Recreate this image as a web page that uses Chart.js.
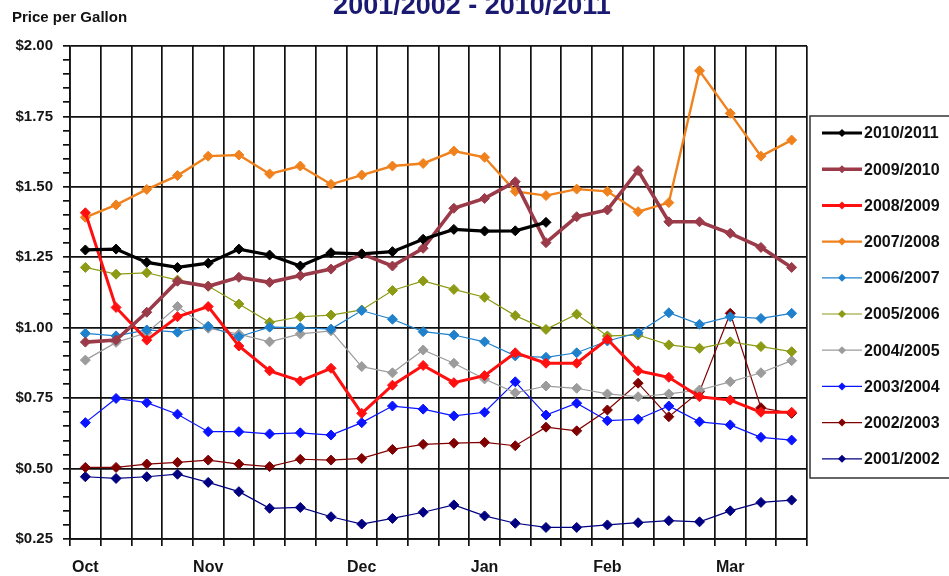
<!DOCTYPE html>
<html>
<head>
<meta charset="utf-8">
<script src="https://cdn.jsdelivr.net/npm/chart.js@4.4.1/dist/chart.umd.min.js"></script>
<style>
  html, body { margin: 0; padding: 0; background: #ffffff; }
  #wrap { width: 949px; height: 576px; overflow: hidden; }
</style>
</head>
<body>
<div id="wrap"><canvas id="c" width="949" height="576"></canvas></div>
<script>
// ---- data ----
const chartTitle = "2001/2002 - 2010/2011";
const axisTitle = "Price per Gallon";
const categories = ['Oct','','','','Nov','','','','','Dec','','','','Jan','','','','Feb','','','','Mar','',''];
const seriesNames = ['2010/2011','2009/2010','2008/2009','2007/2008','2006/2007','2005/2006','2004/2005','2003/2004','2002/2003','2001/2002'];

const s2010_2011 = [1.276,1.279,1.232,1.214,1.229,1.279,1.258,1.219,1.266,1.262,1.270,1.314,1.349,1.343,1.344,1.374];
const s2009_2010 = [0.949,0.956,1.055,1.165,1.147,1.179,1.161,1.185,1.208,1.262,1.219,1.282,1.424,1.459,1.518,1.302,1.394,1.418,1.558,1.376,1.376,1.335,1.285,1.214];
const s2008_2009 = [1.408,1.072,0.956,1.039,1.075,0.935,0.847,0.811,0.856,0.696,0.796,0.866,0.805,0.830,0.911,0.874,0.874,0.959,0.847,0.824,0.755,0.743,0.700,0.700];
const s2007_2008 = [1.392,1.436,1.491,1.540,1.609,1.613,1.546,1.574,1.509,1.542,1.574,1.583,1.627,1.605,1.484,1.469,1.492,1.484,1.412,1.444,1.912,1.761,1.609,1.666];
const s2006_2007 = [0.980,0.971,0.992,0.984,1.005,0.968,1.002,1.000,0.995,1.061,1.030,0.986,0.974,0.950,0.900,0.895,0.911,0.953,0.982,1.053,1.012,1.039,1.033,1.051];
const s2005_2006 = [1.214,1.190,1.195,1.169,1.148,1.084,1.019,1.039,1.045,1.063,1.132,1.166,1.136,1.108,1.043,0.994,1.048,0.971,0.974,0.939,0.927,0.950,0.933,0.915];
const s2004_2005 = [0.885,0.948,0.982,1.075,0.998,0.977,0.950,0.978,0.989,0.862,0.840,0.921,0.874,0.818,0.769,0.793,0.785,0.765,0.755,0.765,0.779,0.808,0.840,0.883];
const s2003_2004 = [0.663,0.749,0.734,0.693,0.631,0.631,0.623,0.627,0.619,0.663,0.722,0.711,0.687,0.700,0.808,0.690,0.732,0.670,0.675,0.722,0.666,0.655,0.611,0.601];
const s2002_2003 = [0.504,0.504,0.516,0.522,0.530,0.516,0.507,0.533,0.530,0.536,0.568,0.586,0.590,0.593,0.581,0.647,0.634,0.708,0.803,0.684,0.773,1.051,0.716,0.696];
const s2001_2002 = [0.471,0.465,0.471,0.480,0.451,0.418,0.359,0.362,0.329,0.303,0.323,0.345,0.371,0.332,0.306,0.291,0.291,0.300,0.308,0.315,0.311,0.350,0.380,0.388];

const yMin = 0.25, yMax = 2.00, yMinorStep = 0.05, yMajorStep = 0.25;

// ---- styles ----
const seriesData = [s2010_2011,s2009_2010,s2008_2009,s2007_2008,s2006_2007,s2005_2006,s2004_2005,s2003_2004,s2002_2003,s2001_2002];
const seriesColors = ['#000000','#9b3a48','#ff1010','#f0821e','#1f80cc','#8c9a14','#9c9c9c','#0a14ff','#800000','#000080'];
const seriesWidths = [3.2,3.6,3,2.4,1.2,1.2,1.2,1.2,1.2,1.2];

const FONT = "'Liberation Sans', Arial, sans-serif";

const datasets = seriesNames.map((name, i) => ({
  label: name,
  data: seriesData[i],
  borderColor: seriesColors[i],
  backgroundColor: seriesColors[i],
  borderWidth: seriesWidths[i],
  pointStyle: 'rectRot',
  pointRadius: 5,
  pointBorderWidth: 1,
  pointBackgroundColor: seriesColors[i],
  pointBorderColor: seriesColors[i],
  tension: 0,
  fill: false
}));

const decorPlugin = {
  id: 'decor',
  afterDraw(chart) {
    const ctx = chart.ctx;
    ctx.save();
    // title (partially cut at top)
    ctx.fillStyle = '#1a1a72';
    ctx.font = "bold 27px " + FONT;
    ctx.textAlign = 'center';
    ctx.textBaseline = 'alphabetic';
    ctx.fillText(chartTitle, 472, 14);
    // axis title
    ctx.fillStyle = '#111';
    ctx.font = "bold 15px " + FONT;
    ctx.textAlign = 'left';
    ctx.textBaseline = 'middle';
    ctx.fillText(axisTitle, 12, 18);
    // legend box
    const bx = 810, by = 116, bw = 150, bh = 362;
    ctx.fillStyle = '#ffffff';
    ctx.fillRect(bx, by, bw, bh);
    ctx.strokeStyle = '#333';
    ctx.lineWidth = 1.5;
    ctx.strokeRect(bx, by, bw, bh);
    const rowStart = 133, rowStep = 36.2;
    seriesNames.forEach((name, i) => {
      const y = rowStart + i * rowStep;
      ctx.strokeStyle = seriesColors[i];
      ctx.lineWidth = seriesWidths[i];
      ctx.beginPath();
      ctx.moveTo(822, y);
      ctx.lineTo(862, y);
      ctx.stroke();
      ctx.fillStyle = seriesColors[i];
      ctx.beginPath();
      const r = 4;
      ctx.moveTo(842, y - r);
      ctx.lineTo(842 + r, y);
      ctx.lineTo(842, y + r);
      ctx.lineTo(842 - r, y);
      ctx.closePath();
      ctx.fill();
      ctx.fillStyle = '#111';
      ctx.font = "bold 16px " + FONT;
      ctx.textAlign = 'left';
      ctx.textBaseline = 'middle';
      ctx.fillText(name, 864, y + 1);
    });
    ctx.restore();
  }
};

const isMajor = v => Math.abs(Math.round(v * 100) % 25) === 0;

new Chart(document.getElementById('c'), {
  type: 'line',
  data: { labels: categories, datasets },
  options: {
    responsive: false,
    animation: false,
    layout: { padding: { left: 0, right: 142, top: 46, bottom: 0 } },
    plugins: { legend: { display: false }, tooltip: { enabled: false }, title: { display: false } },
    scales: {
      x: {
        type: 'category',
        offset: true,
        grid: { offset: true, color: '#111', lineWidth: 1.7, tickLength: 7, tickColor: '#111' },
        border: { color: '#111', width: 1.7 },
        ticks: { autoSkip: false, maxRotation: 0, minRotation: 0, padding: 12, color: '#151515', font: { family: FONT, size: 16, weight: 'bold' } },
        afterFit(s) { s.height = 37; }
      },
      y: {
        min: yMin, max: yMax,
        ticks: {
          stepSize: yMinorStep,
          autoSkip: false,
          padding: 10,
          color: '#151515',
          font: { family: FONT, size: 15, weight: 'bold' },
          callback: v => isMajor(v) ? '$' + v.toFixed(2) : ''
        },
        grid: {
          color: c => isMajor(c.tick.value) ? '#111' : 'rgba(0,0,0,0)',
          lineWidth: 1.7,
          tickColor: '#111',
          tickLength: 7
        },
        border: { color: '#111', width: 1.7 },
        afterFit(s) { s.width = 70; }
      }
    }
  },
  plugins: [decorPlugin]
});
</script>
</body>
</html>
